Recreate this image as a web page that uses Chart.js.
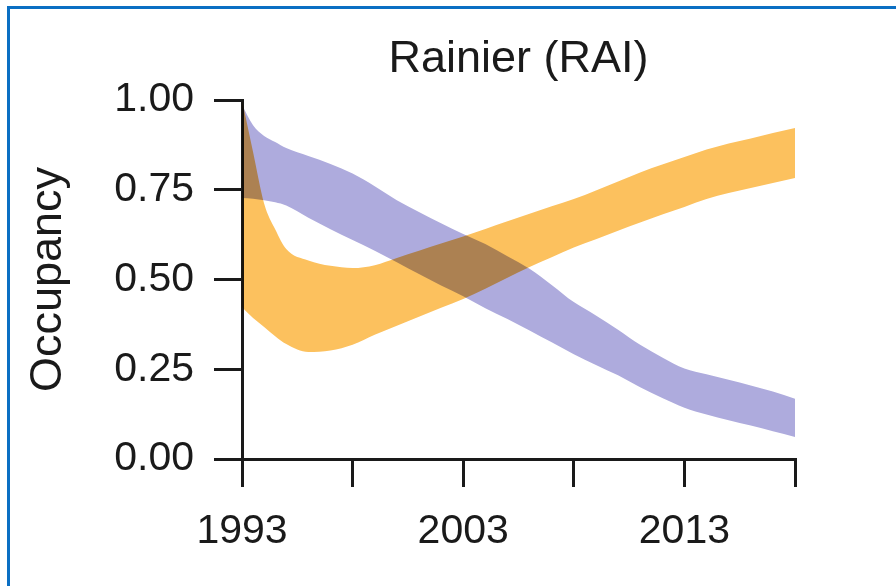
<!DOCTYPE html>
<html>
<head>
<meta charset="utf-8">
<script src="https://cdn.jsdelivr.net/npm/chart.js@4/dist/chart.umd.min.js"></script>
<style>
  html, body { margin: 0; padding: 0; background: #ffffff; }
  #wrap { position: relative; width: 896px; height: 586px; overflow: hidden; }
  #frame {
    position: absolute; left: 7px; top: 6px; right: -10px; bottom: -10px;
    border-top: 3px solid #0b6fc3; border-left: 3px solid #0b6fc3;
    pointer-events: none;
  }
  canvas { position: absolute; left: 0; top: 0; }
</style>
</head>
<body>
<div id="wrap">
  <canvas id="chart" width="896" height="586"></canvas>
  <div id="frame"></div>
</div>
<script>
// Occupancy credible bands, Rainier (RAI), 1993-2018
const TITLE = 'Rainier (RAI)';
const Y_TITLE = 'Occupancy';

const YEARS = [1993, 1993.5, 1994, 1994.5, 1995, 1996, 1997, 1998, 1999, 2000,
  2001, 2002, 2003, 2004, 2005, 2006, 2007, 2008, 2009, 2010,
  2011, 2012, 2013, 2014, 2015, 2016, 2017, 2018];

// purple band (declining)
const BLUE_HI = [0.986, 0.930, 0.900, 0.883, 0.866, 0.844, 0.822, 0.795, 0.760, 0.721,
  0.688, 0.657, 0.627, 0.599, 0.565, 0.530, 0.485, 0.437, 0.400, 0.360,
  0.318, 0.283, 0.252, 0.236, 0.221, 0.205, 0.188, 0.168];
const BLUE_LO = [0.727, 0.725, 0.721, 0.715, 0.706, 0.672, 0.640, 0.610, 0.580, 0.548,
  0.515, 0.483, 0.453, 0.420, 0.390, 0.358, 0.325, 0.292, 0.262, 0.233,
  0.200, 0.170, 0.143, 0.124, 0.108, 0.093, 0.077, 0.061];

// orange band (dip then recovery)
const ORANGE_HI = [1.000, 0.855, 0.712, 0.640, 0.585, 0.553, 0.538, 0.532, 0.540, 0.560,
  0.580, 0.600, 0.620, 0.641, 0.662, 0.683, 0.704, 0.724, 0.748, 0.773,
  0.798, 0.820, 0.841, 0.862, 0.879, 0.893, 0.908, 0.922];
const ORANGE_LO = [0.423, 0.393, 0.368, 0.342, 0.320, 0.298, 0.302, 0.318, 0.346, 0.371,
  0.396, 0.421, 0.446, 0.474, 0.505, 0.535, 0.562, 0.589, 0.612, 0.636,
  0.659, 0.681, 0.702, 0.724, 0.741, 0.755, 0.769, 0.783];

const X_TICKS = [1993, 1998, 2003, 2008, 2013, 2018];
const X_LABELS = [1993, 2003, 2013];
const Y_TICKS = [0, 0.25, 0.5, 0.75, 1];

const BLUE = '#aeabdd';
const ORANGE = '#fcc15e';
const INK = '#1a1a1a';
const FONT = "'Liberation Sans', Arial, Helvetica, sans-serif";

const pts = (vals) => YEARS.map((x, i) => ({ x, y: vals[i] }));

const band = (vals, color, fill) => ({
  data: pts(vals),
  borderColor: 'rgba(0,0,0,0)',
  borderWidth: 0,
  backgroundColor: color,
  pointRadius: 0,
  pointHoverRadius: 0,
  cubicInterpolationMode: 'monotone',
  fill: fill
});

// overlapping bands darken each other where they cross
const multiplyBlend = {
  id: 'multiplyBlend',
  beforeDatasetsDraw(chart) {
    chart.ctx.save();
    chart.ctx.globalCompositeOperation = 'multiply';
  },
  afterDatasetsDraw(chart) {
    chart.ctx.restore();
  }
};

new Chart(document.getElementById('chart'), {
  type: 'line',
  data: {
    datasets: [
      band(BLUE_LO, BLUE, false),
      band(BLUE_HI, BLUE, '-1'),
      band(ORANGE_LO, ORANGE, false),
      band(ORANGE_HI, ORANGE, '-1')
    ]
  },
  options: {
    responsive: false,
    animation: false,
    devicePixelRatio: 1,
    layout: { padding: { left: 0, right: 101, top: 0, bottom: 0 } },
    plugins: {
      legend: { display: false },
      tooltip: { enabled: false },
      title: {
        display: true,
        text: TITLE,
        fullSize: false,
        color: INK,
        font: { family: FONT, size: 45, weight: 'normal', lineHeight: 1.2 },
        padding: { top: 33, bottom: 13 }
      }
    },
    scales: {
      x: {
        type: 'linear',
        min: 1993,
        max: 2018,
        afterBuildTicks: (scale) => { scale.ticks = X_TICKS.map(v => ({ value: v })); },
        afterFit: (scale) => { scale.height = 127; },
        ticks: {
          autoSkip: false,
          maxRotation: 0,
          padding: 20,
          color: INK,
          font: { family: FONT, size: 41 },
          callback: (v) => X_LABELS.includes(v) ? String(v) : ''
        },
        grid: {
          display: true,
          drawOnChartArea: false,
          drawTicks: true,
          tickLength: 28,
          lineWidth: 3,
          color: INK
        },
        border: { display: true, width: 3, color: INK }
      },
      y: {
        type: 'linear',
        min: 0,
        max: 1,
        afterBuildTicks: (scale) => { scale.ticks = Y_TICKS.map(v => ({ value: v })); },
        afterFit: (scale) => { scale.width = 242; },
        ticks: {
          padding: 20,
          color: INK,
          font: { family: FONT, size: 41 },
          callback: (v) => Number(v).toFixed(2)
        },
        grid: {
          display: true,
          drawOnChartArea: false,
          drawTicks: true,
          tickLength: 28,
          lineWidth: 3,
          color: INK
        },
        border: { display: true, width: 3, color: INK },
        title: {
          display: true,
          text: Y_TITLE,
          color: INK,
          font: { family: FONT, size: 45, weight: 'normal', lineHeight: 1.2 },
          padding: { top: 22, bottom: 0 }
        }
      }
    }
  },
  plugins: [multiplyBlend]
});
</script>
</body>
</html>
